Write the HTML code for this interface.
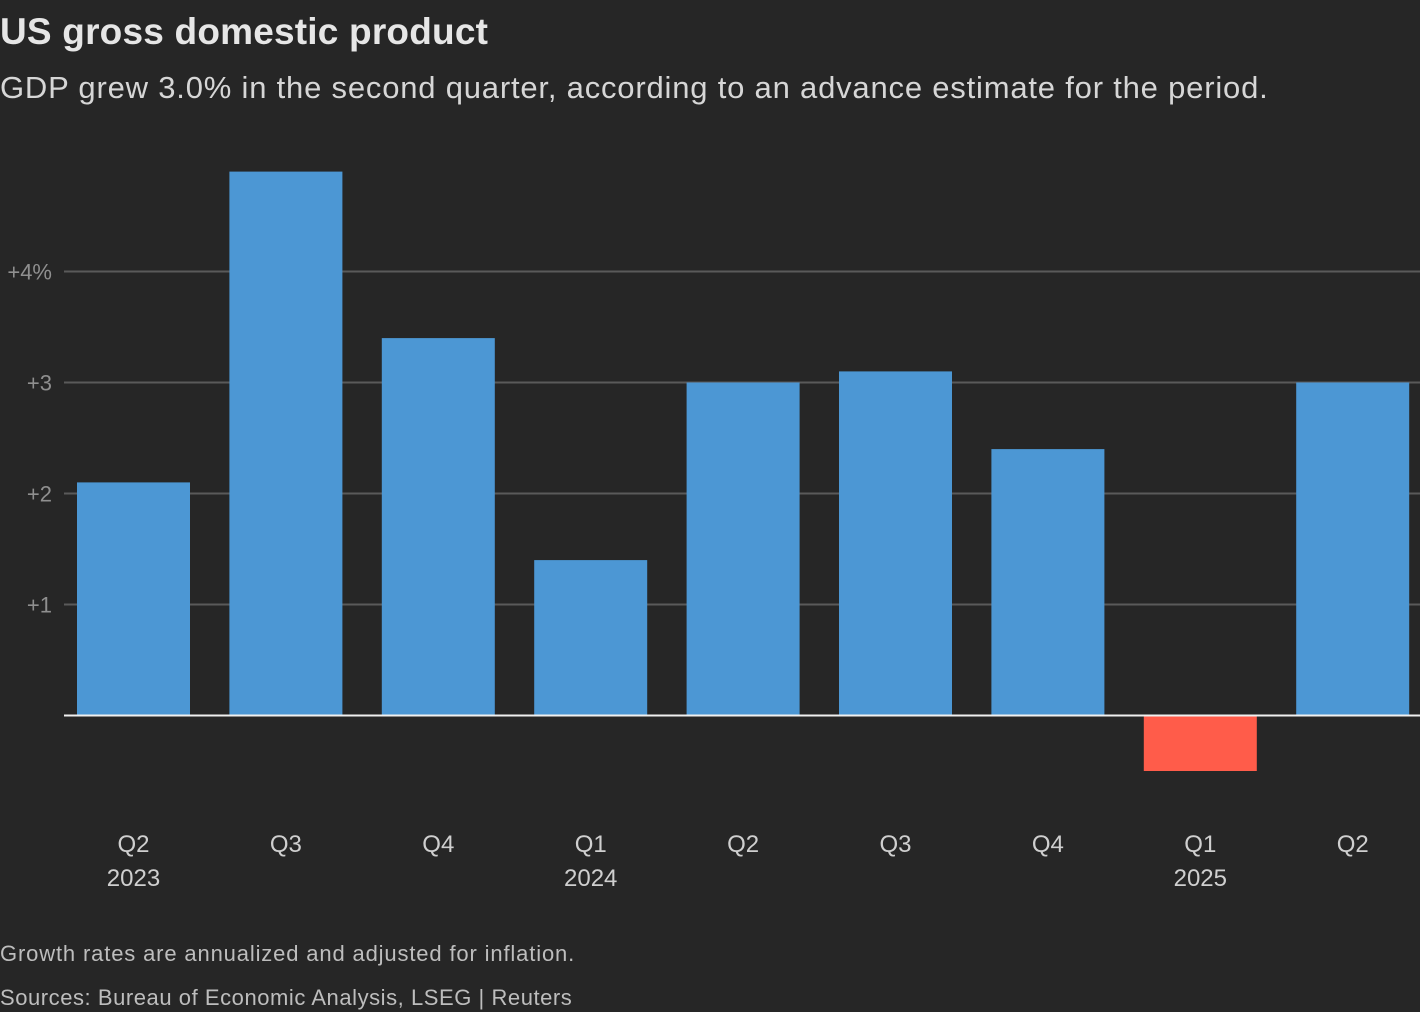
<!DOCTYPE html>
<html><head><meta charset="utf-8"><style>
html,body{margin:0;padding:0;background:#262626;}
body{width:1420px;height:1012px;overflow:hidden;position:relative;font-family:"Liberation Sans",sans-serif;}
.t{position:absolute;left:0;white-space:nowrap;}
</style></head><body>
<div class="t" style="top:11px;font-size:37px;font-weight:bold;color:#e6e6e6;letter-spacing:0.2px;">US gross domestic product</div>
<div class="t" style="top:70px;font-size:31px;color:#d6d6d6;letter-spacing:0.8px;">GDP grew 3.0% in the second quarter, according to an advance estimate for the period.</div>
<svg id="chart" width="1420" height="1012" style="position:absolute;left:0;top:0;"></svg>
<div class="t" style="top:941px;font-size:22px;color:#bdbdbd;letter-spacing:0.85px;">Growth rates are annualized and adjusted for inflation.</div>
<div class="t" style="top:985px;font-size:22px;color:#bdbdbd;letter-spacing:0.55px;">Sources: Bureau of Economic Analysis, LSEG | Reuters</div>
<script>
const quarters=["Q2","Q3","Q4","Q1","Q2","Q3","Q4","Q1","Q2"];
const years=["2023","","","2024","","","","2025",""];
const values=[2.1,4.9,3.4,1.4,3.0,3.1,2.4,-0.5,3.0];
const ticks=[1,2,3,4];
const tickLabels=["+1","+2","+3","+4%"];
const svg=document.getElementById('chart');
const NS='http://www.w3.org/2000/svg';
const y0=715.5,unit=111;
function y(v){return y0-v*unit;}
function x(i){return 133.5+i*152.4;}
const bw=113;
function mk(t,a){const e=document.createElementNS(NS,t);for(const k in a)e.setAttribute(k,a[k]);svg.appendChild(e);return e;}
ticks.forEach((t,i)=>{
  const l=mk('line',{x1:64,x2:1420,y1:y(t),y2:y(t),stroke:'#5a5a5a','stroke-width':2});
  
  
  const tx=mk('text',{x:52,y:y(t)+8,'text-anchor':'end','font-size':22,fill:'#8f8f8f','font-family':'Liberation Sans, sans-serif'});
  tx.textContent=tickLabels[i];
  
  
});
values.forEach((v,i)=>{
  const r=mk('rect',{x:x(i)-bw/2,y:Math.min(y(v),y0),width:bw,height:Math.abs(y(v)-y0),fill:v<0?'#ff5c4a':'#4c97d4'});
  
  
  const q=mk('text',{x:x(i),y:852,'text-anchor':'middle','font-size':24,fill:'#cfcfcf','font-family':'Liberation Sans, sans-serif'});
  q.textContent=quarters[i];
  
  
  if(years[i]){
    const yr=mk('text',{x:x(i),y:886,'text-anchor':'middle','font-size':24,fill:'#cfcfcf','font-family':'Liberation Sans, sans-serif'});
    yr.textContent=years[i];
    
    
  }
});
const z=mk('line',{x1:64,x2:1420,y1:y0,y2:y0,stroke:'#f0f0f0','stroke-width':2});


</script>
</body></html>
